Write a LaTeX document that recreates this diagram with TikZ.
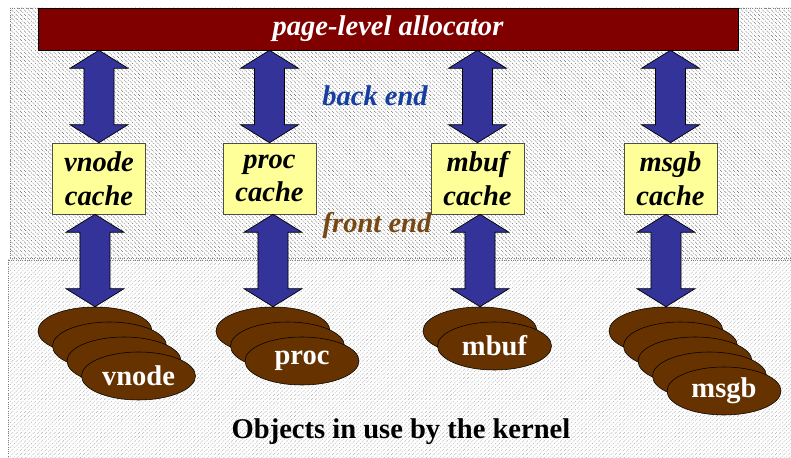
\documentclass[tikz,border=0pt]{standalone}
\usepackage{fontspec}
\setmainfont{Liberation Serif}
\usetikzlibrary{positioning,patterns,calc,shapes.geometric}
\definecolor{AllocColor}{RGB}{128,0,0}
\definecolor{CacheColor}{RGB}{255,255,153}
\definecolor{ArrowColor}{RGB}{51,51,153}
\definecolor{ObjColor}{RGB}{102,51,0}
\definecolor{BackColor}{RGB}{22,62,160}
\definecolor{FrontColor}{RGB}{120,72,20}
\tikzset{
    bigfont/.style={font=\fontsize{20.3}{24}\selectfont\bfseries},
    panel/.style={draw=black!50, densely dotted, line width=0.6pt},
    alloc/.style={rectangle, draw=black, fill=AllocColor, text=white, font=\fontsize{20.3}{24}\selectfont\bfseries\itshape, minimum width=17.5cm, minimum height=1.05cm, inner sep=0pt},
    cache/.style={rectangle, draw=black!70, fill=CacheColor, align=center, font=\fontsize{20.3}{24}\selectfont\bfseries\itshape, minimum width=2.325cm, minimum height=1.775cm, inner sep=0pt},
    obj/.style={ellipse, draw=black, fill=ObjColor, text=white, bigfont, minimum width=2.85cm, minimum height=1.2cm, inner sep=0pt},
    tag/.style={font=\fontsize{20.3}{24}\selectfont\bfseries\itshape},
    bigarrow/.style={draw=black, line width=0.5pt, fill=ArrowColor,
        to path={let \p1=(\tikztostart), \p2=(\tikztotarget) in
            (\x1,\y1) -- (\x1+20.6pt,\y1-12.8pt) -- (\x1+10.7pt,\y1-12.8pt)
            -- (\x1+10.7pt,\y2+12.8pt) -- (\x1+20.6pt,\y2+12.8pt) -- (\x1,\y2)
            -- (\x1-20.6pt,\y2+12.8pt) -- (\x1-10.7pt,\y2+12.8pt)
            -- (\x1-10.7pt,\y1-12.8pt) -- (\x1-20.6pt,\y1-12.8pt) -- cycle}}
}

\begin{document}
\begin{tikzpicture}[x=0.025cm, y=-0.025cm]
\useasboundingbox (0,0) rectangle (791,458);
\fill[white] (0,0) rectangle (791,458);

% Back and front panels
\draw[panel, pattern=north west lines, pattern color=black!60] (10,8) rectangle (792,258);
\draw[panel, pattern=north east lines, pattern color=black!32] (8,260) rectangle (792,459);

% Page-level allocator
\node (alloc) [alloc] at (388,29) {page-level allocator};

% Caches
\node (vcache) [cache] at (99,178.5) {vnode\\cache};
\node (pcache) [cache] at (269.5,178.5) {proc\\cache};
\node (mcache) [cache] at (477.5,178.5) {mbuf\\cache};
\node (scache) [cache] at (670.5,178.5) {msgb\\cache};

% Labels
\node (back) [tag, text=BackColor] at (375,96) {back end};
\node (front) [tag, text=FrontColor] at (377,225) {front end};

% Objects
\foreach \i in {0,1,2}
    \node (vnode\i) [obj] at ({95+14.5*\i},{331+15*\i}) {};
\node (vnode3) [obj] at (138.5,376) {vnode};

\foreach \i in {0,1}
    \node (proc\i) [obj] at ({273+14.5*\i},{331+15*\i}) {};
\node (proc2) [obj] at (302,361) {proc};

\node (mbuf0) [obj] at (480,331) {};
\node (mbuf1) [obj] at (494.5,346) {mbuf};

\foreach \i in {0,...,3}
    \node (msgb\i) [obj] at ({666+14.5*\i},{331+15*\i}) {};
\node (msgb4) [obj] at (724,391) {msgb};

\node (kernel) [bigfont] at (401,432) {Objects in use by the kernel};

% Connections
\draw [bigarrow] (alloc.south -| vcache.north) to (vcache.north);
\draw [bigarrow] (alloc.south -| pcache.north) to (pcache.north);
\draw [bigarrow] (alloc.south -| mcache.north) to (mcache.north);
\draw [bigarrow] (alloc.south -| scache.north) to (scache.north);
\draw [bigarrow] (vcache.south -| vnode0.north) to (vnode0.north);
\draw [bigarrow] (pcache.south -| proc0.north) to (proc0.north);
\draw [bigarrow] (mcache.south -| mbuf0.north) to (mbuf0.north);
\draw [bigarrow] (scache.south -| msgb0.north) to (msgb0.north);

\end{tikzpicture}
\end{document}
